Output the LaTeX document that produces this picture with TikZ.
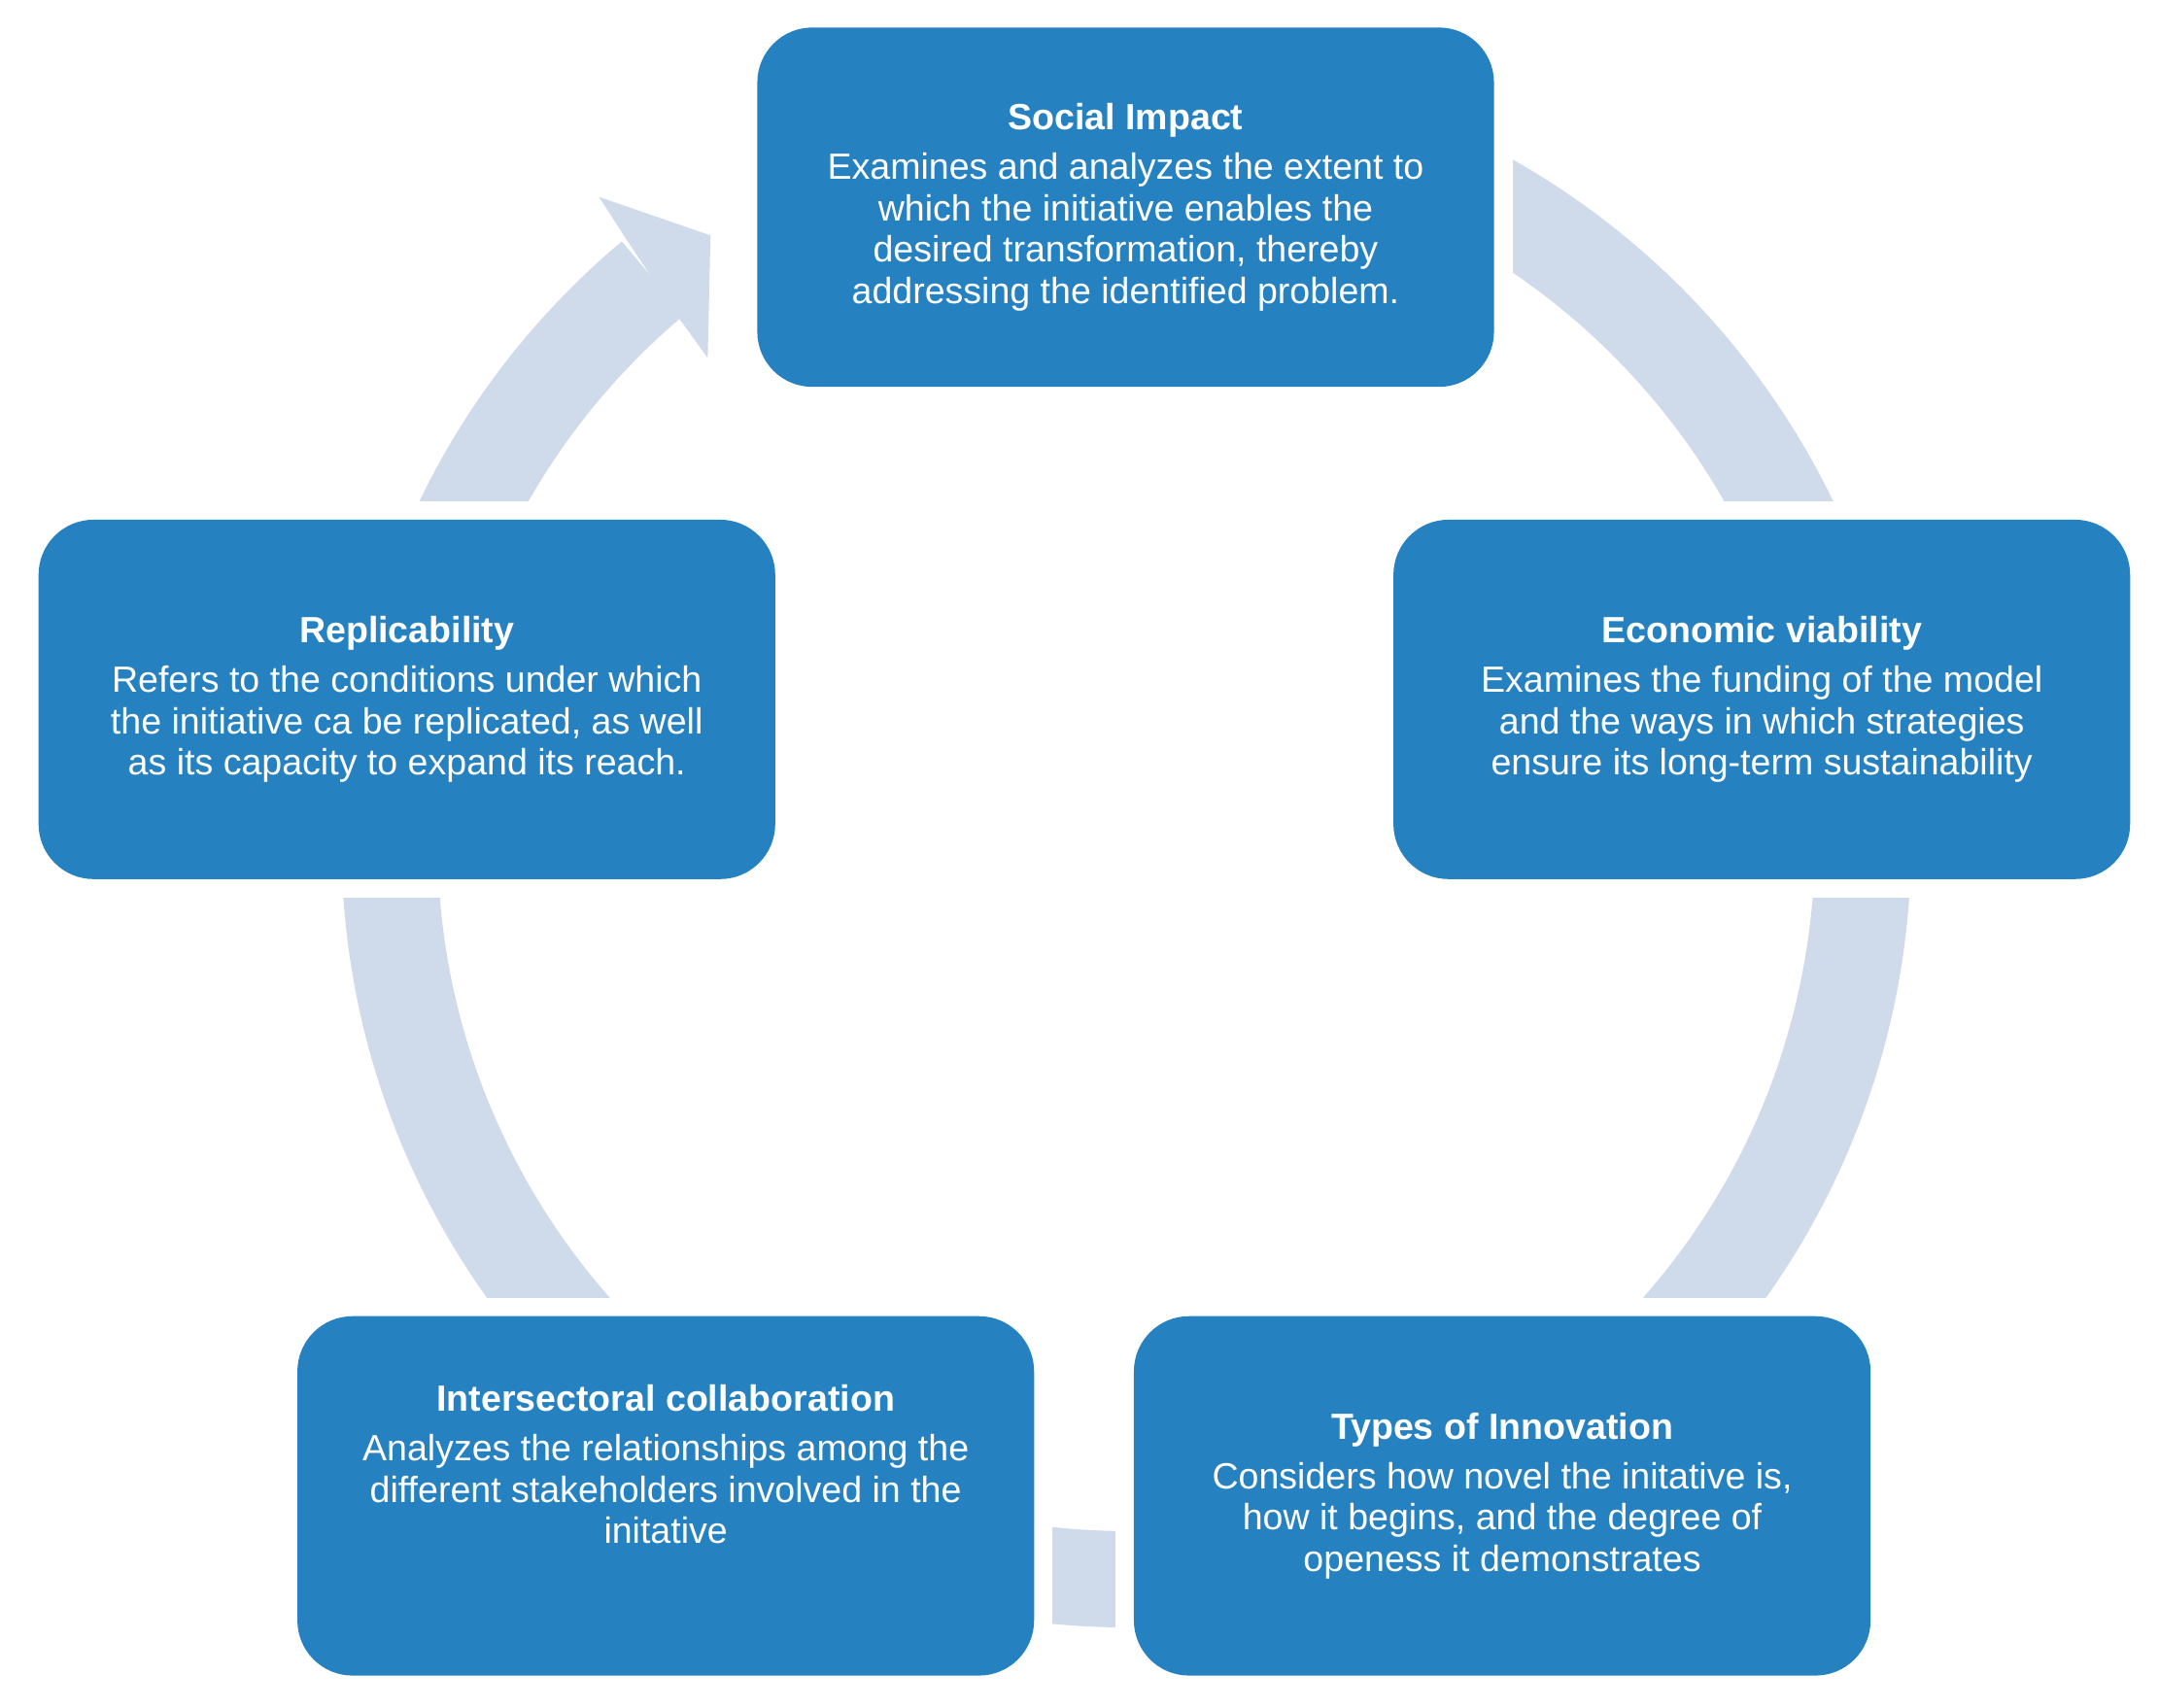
\documentclass[tikz,border=0pt]{standalone}
\usepackage{fontspec}
\setmainfont{Liberation Sans}
\definecolor{boxblue}{HTML}{2681C0}
\definecolor{ringc}{HTML}{CFDBEA}
\begin{document}
\begin{tikzpicture}[x=1pt,y=1pt,
  box/.style={fill=boxblue,rounded corners=40pt,minimum width=535pt,minimum height=261pt,inner sep=0pt},
  txt/.style={text=white,align=center,font=\fontsize{26.5}{30}\selectfont},
  wipe/.style={fill=white,minimum width=562pt,minimum height=288pt,inner sep=0pt}]
\useasboundingbox (0,0) rectangle (1568,1240);
% ring
\begin{scope}[shift={(818,628)}]
\fill[ringc] (130:570) arc[start angle=130,end angle=440,radius=570] -- (440:500) arc[start angle=440,end angle=130,radius=500] -- cycle;
\end{scope}
\fill[ringc] (455,1066) -- (435,1097) -- (516,1069) -- (514,980) -- (493,1009) -- cycle;
% wipes around boxes
\node[wipe] at (817.5,1089.5) {};
\node[wipe] at (1279.5,732) {};
\node[wipe] at (1091,153.5) {};
\node[wipe] at (483.5,153.5) {};
\node[wipe] at (295.5,732) {};
% boxes
\node[box] (soc) at (817.5,1089.5) {};
\node[box] (eco) at (1279.5,732) {};
\node[box] (typ) at (1091,153.5) {};
\node[box] (int) at (483.5,153.5) {};
\node[box] (rep) at (295.5,732) {};
\node[txt] (soct) at (soc) {\textbf{Social Impact}\\[6pt]Examines and analyzes the extent to\\which the initiative enables the\\desired transformation, thereby\\addressing the identified problem.};
\node[txt] (ecot) at (eco) {\textbf{Economic viability}\\[6pt]Examines the funding of the model\\and the ways in which strategies\\ensure its long-term sustainability};
\node[txt] (typt) at (typ) {\textbf{Types of Innovation}\\[6pt]Considers how novel the initative is,\\how it begins, and the degree of\\openess it demonstrates};
\node[txt] (intt) at ([yshift=23pt]int.center) {\textbf{Intersectoral collaboration}\\[6pt]Analyzes the relationships among the\\different stakeholders involved in the\\initative};
\node[txt] (rept) at (rep) {\textbf{Replicability}\\[6pt]Refers to the conditions under which\\the initiative ca be replicated, as well\\as its capacity to expand its reach.};
\end{tikzpicture}
\end{document}
